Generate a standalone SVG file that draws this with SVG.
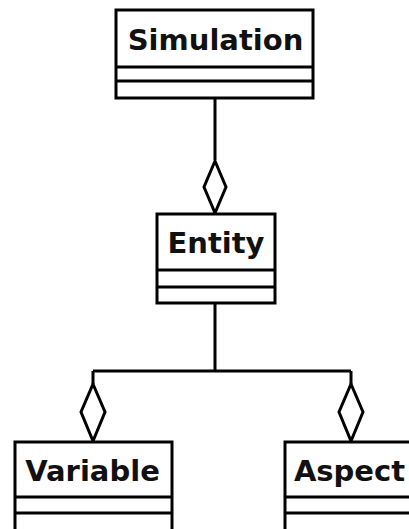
<svg xmlns="http://www.w3.org/2000/svg" width="409" height="529" viewBox="0 0 409 529">
  <style>
    .box { fill: #ffffff; stroke: #000000; stroke-width: 3; }
    .sep { stroke: #000000; stroke-width: 3; fill: none; }
    .name { font-family: "DejaVu Sans", "Liberation Sans", sans-serif; font-weight: bold; font-size: 29px; fill: #111111; text-anchor: middle; }
    .edge { stroke: #000000; stroke-width: 3; fill: none; }
    .agg { fill: #ffffff; stroke: #000000; stroke-width: 3; stroke-linejoin: miter; }
  </style>
  <rect width="409" height="529" fill="#ffffff"/>

  <!-- aggregation connectors -->
  <g id="connectors">
    <path class="edge" d="M215,98 V160"/>
    <polygon class="agg" points="215,161 226,187 215,213 204,187"/>
    <path class="edge" d="M215,303 V371 M93,371 H351 M93,371 V384 M351,371 V384"/>
    <polygon class="agg" points="93,384 105,412 93,441 81,412"/>
    <polygon class="agg" points="351,384 363,412 351,441 339,412"/>
  </g>

  <g id="simulation">
    <rect class="box" x="116" y="10" width="197" height="88"/>
    <line class="sep" x1="116" y1="67" x2="313" y2="67"/>
    <line class="sep" x1="116" y1="81" x2="313" y2="81"/>
    <text class="name" x="215.5" y="50">Simulation</text>
  </g>

  <g id="entity">
    <rect class="box" x="157" y="214" width="118" height="89"/>
    <line class="sep" x1="157" y1="270" x2="275" y2="270"/>
    <line class="sep" x1="157" y1="287" x2="275" y2="287"/>
    <text class="name" x="216" y="253">Entity</text>
  </g>

  <g id="variable">
    <rect class="box" x="15" y="442" width="157" height="100"/>
    <line class="sep" x1="15" y1="497" x2="172" y2="497"/>
    <line class="sep" x1="15" y1="513" x2="172" y2="513"/>
    <text class="name" x="92.5" y="481">Variable</text>
  </g>

  <g id="aspect">
    <rect class="box" x="285" y="442" width="129" height="100"/>
    <line class="sep" x1="285" y1="497" x2="414" y2="497"/>
    <line class="sep" x1="285" y1="513" x2="414" y2="513"/>
    <text class="name" x="349.5" y="481">Aspect</text>
  </g>
</svg>
